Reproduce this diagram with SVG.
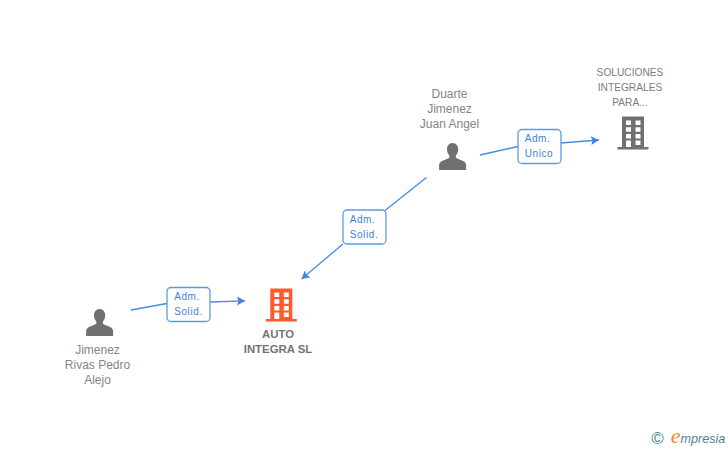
<svg xmlns="http://www.w3.org/2000/svg" width="728" height="450" viewBox="0 0 728 450">
<style>
text{font-family:"Liberation Sans",Arial,sans-serif;text-anchor:middle}
.n{font-size:12px;fill:#858585}
.c{font-size:10.2px;fill:#7c7c7c}
.b{font-size:11.4px;fill:#747474;font-weight:bold}
.l{font-size:10px;fill:#3d7fdc;letter-spacing:.6px}
.e{fill:none;stroke:#4a8ae6;stroke-width:1.3}
.box{fill:#fff;stroke:#5c9ae8;stroke-width:1.3}
.g{fill:#707070}
.o{fill:#ff5a2c}
</style>
<defs>
<marker id="a" markerUnits="userSpaceOnUse" markerWidth="10" markerHeight="10" refX="9" refY="5" orient="auto"><path d="M1 .5L9 5L1 9.500L2.500 5Z" fill="#3f84e4"/></marker>
<g id="person"><path d="M0 0c-3.700 0-5.500 3-5.500 6.500c0 2.500 1 4.500 2.300 6v2.300c-1.500 1.200-4.500 2-6.700 3c-2.300 1-3.500 2.500-3.500 4.500v4.700h27v-4.700c0-2-1.200-3.500-3.500-4.500c-2.200-1-5.200-1.800-6.700-3v-2.300c1.300-1.500 2.300-3.500 2.300-6c0-3.500-1.800-6.500-5.700-6.500Z"/></g>
<g id="bld"><path fill-rule="evenodd" d="M-11 0h22v30.500h4.500v2.500h-31v-2.500h4.500ZM-7 4v4.500h5v-4.500ZM2.500 4v4.500h5v-4.500ZM-7 10.700v4.500h5v-4.500ZM2.500 10.700v4.500h5v-4.500ZM-7 17.400v4.500h5v-4.500ZM2.500 17.400v4.500h5v-4.500ZM-7 24v6.500h5v-6.500ZM2.500 24v4.500h5v-4.500Z"/></g>
</defs>
<g id="connectors">
<path class="e" d="M131 310L167 303.500M210 302L245 300.800" marker-end="url(#a)"/>
<path class="e" d="M426.500 177.500L385 210.500M343 244L301.500 279" marker-end="url(#a)"/>
<path class="e" d="M480 155L518 146.500M561 143L599 140" marker-end="url(#a)"/>
</g>
<g id="edge-label-1"><rect class="box" x="167" y="287.500" width="43" height="34" rx="4"/><text class="l" x="187" y="300">Adm.</text><text class="l" x="188.500" y="315">Solid.</text></g>
<g id="edge-label-2"><rect class="box" x="343" y="210" width="43" height="34" rx="4"/><text class="l" x="362.500" y="223">Adm.</text><text class="l" x="364" y="238">Solid.</text></g>
<g id="edge-label-3"><rect class="box" x="518" y="129.500" width="43" height="34" rx="4"/><text class="l" x="537.500" y="142">Adm.</text><text class="l" x="539" y="157">Unico</text></g>
<g id="node-duarte"><use href="#person" class="g" x="452.500" y="143"/><text class="n" x="449.500" y="98">Duarte</text><text class="n" x="449.500" y="113">Jimenez</text><text class="n" x="449.500" y="128">Juan Angel</text></g>
<g id="node-soluciones"><use href="#bld" class="g" x="633" y="116.500"/><text class="c" x="630" y="76">SOLUCIONES</text><text class="c" x="630" y="91">INTEGRALES</text><text class="c" x="630" y="106">PARA...</text></g>
<g id="node-auto"><use href="#bld" class="o" x="281.300" y="288.500"/><text class="b" x="278" y="338">AUTO</text><text class="b" x="278" y="353">INTEGRA SL</text></g>
<g id="node-jimenez"><use href="#person" class="g" x="99.500" y="309"/><text class="n" x="97.500" y="354">Jimenez</text><text class="n" x="97.500" y="369">Rivas Pedro</text><text class="n" x="97.500" y="384">Alejo</text></g>
<g id="credit"><text x="657.500" y="444" style="font-size:17px;fill:#4f8394">©</text><text x="698" y="443" style="font-size:12.600px;font-style:italic;fill:#4f8394"><tspan style="font-family:'Liberation Serif',serif;font-size:22px;fill:#f08a1e">e</tspan>mpresia</text></g>
</svg>
